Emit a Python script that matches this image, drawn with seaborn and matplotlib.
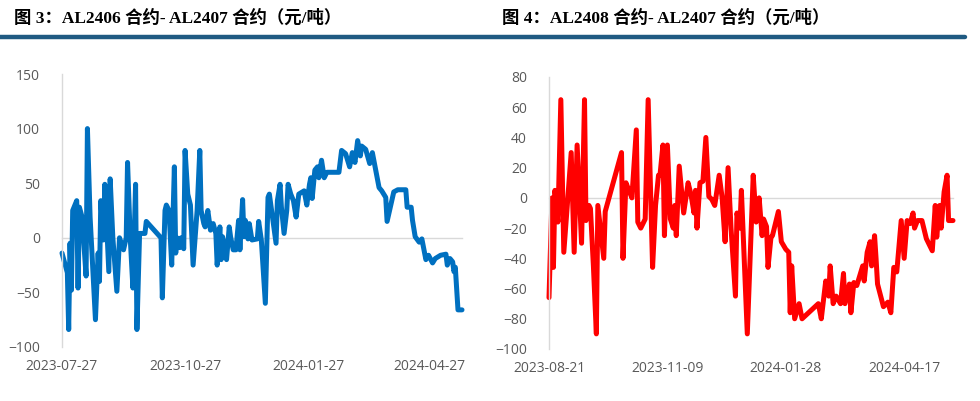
import matplotlib
matplotlib.use("Agg")
import matplotlib.pyplot as plt
import matplotlib.dates as mdates
from matplotlib.lines import Line2D
import seaborn as sns
import pandas as pd

sns.set_style("white")
plt.rcParams["font.family"] = ["Open Sans", "Noto Sans CJK SC", "DejaVu Sans"]

# ---------------- data: AL2406 - AL2407 ----------------
left_dates = [
    "2023-07-27", "2023-07-31", "2023-08-01", "2023-08-02", "2023-08-03", "2023-08-04",
    "2023-08-07", "2023-08-08", "2023-08-09", "2023-08-11", "2023-08-14", "2023-08-15",
    "2023-08-17", "2023-08-21", "2023-08-23", "2023-08-24", "2023-08-25", "2023-08-27",
    "2023-08-28", "2023-08-31", "2023-09-01", "2023-09-03", "2023-09-06", "2023-09-08",
    "2023-09-11", "2023-09-13", "2023-09-14", "2023-09-16", "2023-09-18", "2023-09-20",
    "2023-09-21", "2023-09-23", "2023-09-27", "2023-09-28", "2023-10-09", "2023-10-10",
    "2023-10-12", "2023-10-13", "2023-10-15", "2023-10-17", "2023-10-19", "2023-10-20",
    "2023-10-21", "2023-10-23", "2023-10-24", "2023-10-26", "2023-10-27", "2023-10-29",
    "2023-10-31", "2023-11-02", "2023-11-05", "2023-11-07", "2023-11-08", "2023-11-10",
    "2023-11-11", "2023-11-13", "2023-11-15", "2023-11-17", "2023-11-19", "2023-11-20",
    "2023-11-22", "2023-11-23", "2023-11-24", "2023-11-26", "2023-11-27", "2023-11-29",
    "2023-11-30", "2023-12-02", "2023-12-04", "2023-12-06", "2023-12-07", "2023-12-09",
    "2023-12-10", "2023-12-11", "2023-12-13", "2023-12-14", "2023-12-16", "2023-12-20",
    "2023-12-21", "2023-12-23", "2023-12-26", "2023-12-28", "2023-12-29", "2023-12-31",
    "2024-01-03", "2024-01-04", "2024-01-06", "2024-01-07", "2024-01-09", "2024-01-11",
    "2024-01-12", "2024-01-14", "2024-01-16", "2024-01-18", "2024-01-20", "2024-01-24",
    "2024-01-26", "2024-01-28", "2024-01-29", "2024-01-30", "2024-02-01", "2024-02-03",
    "2024-02-04", "2024-02-06", "2024-02-08", "2024-02-10", "2024-02-19", "2024-02-21",
    "2024-02-24", "2024-02-27", "2024-02-29", "2024-03-02", "2024-03-04", "2024-03-06",
    "2024-03-07", "2024-03-10", "2024-03-13", "2024-03-15", "2024-03-17", "2024-03-20",
    "2024-03-22", "2024-03-25", "2024-03-26", "2024-03-29", "2024-03-31", "2024-04-03",
    "2024-04-09", "2024-04-10", "2024-04-13", "2024-04-14", "2024-04-16", "2024-04-19",
    "2024-04-21", "2024-04-24", "2024-04-26", "2024-04-29", "2024-05-01", "2024-05-05",
    "2024-05-09", "2024-05-10", "2024-05-12", "2024-05-14", "2024-05-15", "2024-05-16",
    "2024-05-18", "2024-05-21",
]
left_values = [
    -14, -32, -84, -5, -48, 25,
    34, -46, 28, 19, -35, 100,
    19, -75, -14, -40, 34, -2,
    49, -31, 54, 0, -49, 0,
    -11, 0, 69, 0, -46, 49,
    -84, 4, 4, 15, 0, -55,
    25, 30, 25, -25, 65, -14,
    0, -9, 0, -10, 80, 40,
    30, -25, 25, 80, 25, 13,
    10, 25, 7, 13, 4, -25,
    10, -20, 1, -11, -20, 10,
    1, -11, -11, 16, -11, 35,
    1, 16, -1, 13, -2, -1,
    15, -2, -60, 37, 40, 22,
    -5, 34, 49, 28, 4, 25,
    49, 40, 34, 19, 40, 43,
    30, 49, 55, 36, 62, 65,
    55, 71, 55, 60, 60, 80,
    77, 65, 78, 69, 89, 75,
    84, 81, 68, 78, 65, 46,
    43, 37, 15, 31, 42, 44,
    44, 28, 28, 16, 1, -4,
    -1, -20, -16, -23, -19, -16,
    -15, -25, -19, -22, -31, -27,
    -66, -66,
]
left_title = "图 3：AL2406 合约- AL2407 合约（元/吨）"
left_xticks = ["2023-07-27", "2023-10-27", "2024-01-27", "2024-04-27"]
left_yticks = [-100, -50, 0, 50, 100, 150]

# ---------------- data: AL2408 - AL2407 ----------------
right_dates = [
    "2023-08-21", "2023-08-23", "2023-08-24", "2023-08-25", "2023-08-27", "2023-08-29",
    "2023-08-31", "2023-09-05", "2023-09-07", "2023-09-09", "2023-09-12", "2023-09-14",
    "2023-09-15", "2023-09-17", "2023-09-18", "2023-09-20", "2023-09-22", "2023-09-23",
    "2023-09-27", "2023-09-28", "2023-10-09", "2023-10-10", "2023-10-12", "2023-10-14",
    "2023-10-16", "2023-10-19", "2023-10-20", "2023-10-22", "2023-10-25", "2023-10-27",
    "2023-10-30", "2023-11-01", "2023-11-03", "2023-11-04", "2023-11-06", "2023-11-07",
    "2023-11-09", "2023-11-11", "2023-11-13", "2023-11-14", "2023-11-15", "2023-11-17",
    "2023-11-20", "2023-11-23", "2023-11-25", "2023-11-27", "2023-11-28", "2023-11-29",
    "2023-12-01", "2023-12-03", "2023-12-05", "2023-12-07", "2023-12-09", "2023-12-11",
    "2023-12-14", "2023-12-16", "2023-12-18", "2023-12-20", "2023-12-22", "2023-12-25",
    "2023-12-26", "2023-12-28", "2023-12-29", "2024-01-02", "2024-01-06", "2024-01-08",
    "2024-01-10", "2024-01-12", "2024-01-13", "2024-01-15", "2024-01-16", "2024-01-18",
    "2024-01-19", "2024-01-23", "2024-01-25", "2024-01-28", "2024-01-30", "2024-01-31",
    "2024-02-01", "2024-02-03", "2024-02-06", "2024-02-08", "2024-02-19", "2024-02-21",
    "2024-02-24", "2024-02-26", "2024-02-27", "2024-02-29", "2024-03-02", "2024-03-05",
    "2024-03-07", "2024-03-08", "2024-03-11", "2024-03-12", "2024-03-14", "2024-03-16",
    "2024-03-20", "2024-03-21", "2024-03-23", "2024-03-25", "2024-03-26", "2024-03-28",
    "2024-03-29", "2024-03-30", "2024-04-03", "2024-04-06", "2024-04-08", "2024-04-10",
    "2024-04-12", "2024-04-15", "2024-04-17", "2024-04-19", "2024-04-21", "2024-04-23",
    "2024-04-24", "2024-04-26", "2024-04-29", "2024-05-02", "2024-05-06", "2024-05-08",
    "2024-05-09", "2024-05-11", "2024-05-12", "2024-05-14", "2024-05-16", "2024-05-17",
    "2024-05-20",
]
right_values = [
    -66, 0, -46, 5, -16, 65,
    -36, 30, -36, 35, -30, 65,
    -15, -5, -7, -45, -90, -5,
    -40, -9, 30, -40, 10, 5,
    0, 45, -16, -20, -14, 65,
    -46, -5, 15, 15, 35, -25,
    35, -14, -20, -5, -25, 21,
    -10, 10, 2, -10, 5, -20,
    10, 11, 40, 1, -1, -5,
    15, 0, -29, 20, -20, -65,
    -10, -20, 5, -90, 15, -16,
    0, -25, -14, -19, -46, -26,
    -25, -9, -29, -34, -36, -76,
    -45, -80, -70, -80, -70, -80,
    -55, -65, -45, -70, -65, -70,
    -50, -70, -57, -76, -56, -58,
    -45, -55, -36, -29, -45, -25,
    -40, -57, -72, -69, -76, -46,
    -49, -15, -40, -15, -17, -10,
    -20, -15, -15, -27, -35, -5,
    -26, -5, -20, 4, 15, -15,
    -15,
]
right_title = "图 4：AL2408 合约- AL2407 合约（元/吨）"
right_xticks = ["2023-08-21", "2023-11-09", "2024-01-28", "2024-04-17"]
right_yticks = [-100, -80, -60, -40, -20, 0, 20, 40, 60, 80]

W, H = 980, 401
fig = plt.figure(figsize=(W / 100, H / 100), dpi=100)
fig.patch.set_facecolor("white")

ax1 = fig.add_axes([62 / W, 1 - 347 / H, 400 / W, (347 - 74) / H])
ax2 = fig.add_axes([549 / W, 1 - 349 / H, 404 / W, (349 - 77) / H])

GRAY = "#D9D9D9"
TXT = "#595959"


def draw(ax, dates, values, color, yticks, xticks):
    df = pd.DataFrame({"date": pd.to_datetime(dates), "value": values})
    sns.lineplot(data=df, x="date", y="value", ax=ax, color=color, lw=3.6,
                 solid_joinstyle="round", solid_capstyle="round", clip_on=False)
    ax.set_xlim(df["date"].iloc[0], df["date"].iloc[-1])
    ax.set_ylim(yticks[0], yticks[-1])
    ax.set_yticks(yticks)
    ax.set_xlabel("")
    ax.set_ylabel("")
    for s in ["top", "right"]:
        ax.spines[s].set_visible(False)
    ax.spines["left"].set_color(GRAY)
    ax.spines["left"].set_linewidth(1.0)
    ax.spines["bottom"].set_position(("data", 0))
    ax.spines["bottom"].set_color(GRAY)
    ax.spines["bottom"].set_linewidth(1.0)
    ax.spines["bottom"].set_zorder(0)
    tick_pos = mdates.date2num(pd.to_datetime(xticks))
    ax.set_xticks(tick_pos)
    ax.tick_params(axis="x", length=4, width=1, color=GRAY, direction="out",
                   labelbottom=False)
    ax.tick_params(axis="y", length=4, width=1, color=GRAY, direction="out",
                   labelcolor=TXT, labelsize=10, pad=12)
    sec = ax.secondary_xaxis("bottom")
    sec.set_xticks(tick_pos)
    sec.set_xticklabels(xticks)
    sec.tick_params(length=0, labelcolor=TXT, labelsize=10, pad=9)
    sec.spines["bottom"].set_visible(False)
    ax.grid(False)


draw(ax1, left_dates, left_values, "#0070C0", left_yticks, left_xticks)
draw(ax2, right_dates, right_values, "#FF0000", right_yticks, right_xticks)

title_font = ["Liberation Serif", "Noto Sans CJK SC", "DejaVu Sans"]
fig.text(14 / W, 1 - 18 / H, left_title, fontsize=12.5, fontweight="bold",
         family=title_font, ha="left", va="center", color="black")
fig.text(502 / W, 1 - 18 / H, right_title, fontsize=12.5, fontweight="bold",
         family=title_font, ha="left", va="center", color="black")
fig.add_artist(Line2D([0, 965 / W], [1 - 36.5 / H] * 2, lw=3.2, color="#1F5A82",
                      transform=fig.transFigure))

fig.savefig("out.png", dpi=100, facecolor="white")
